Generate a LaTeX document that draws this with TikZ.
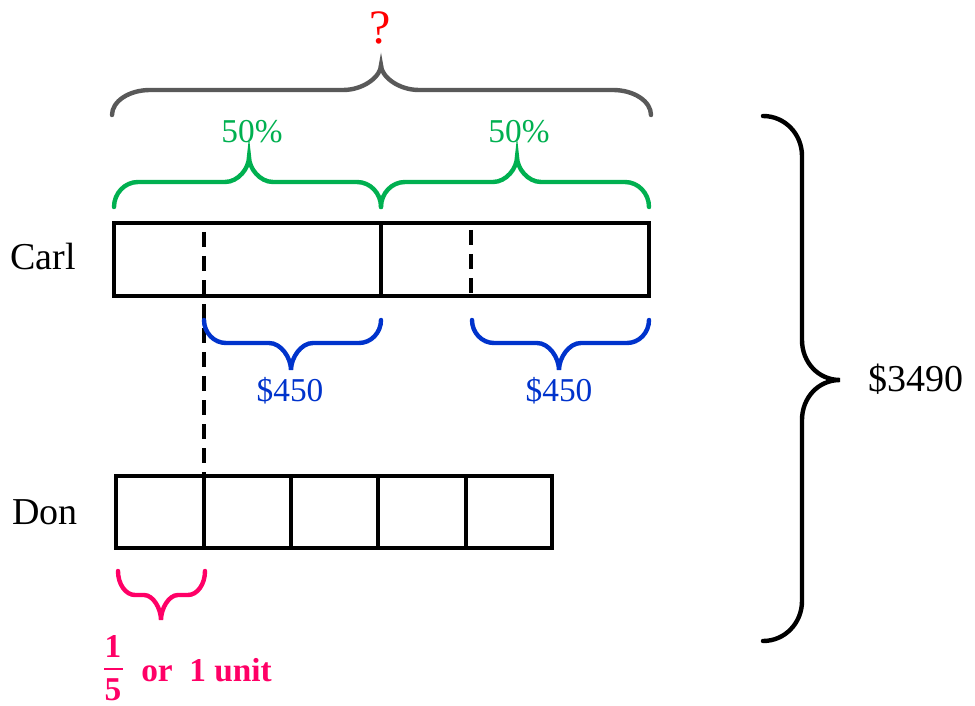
\documentclass[tikz,border=0pt]{standalone}
\usepackage{fontspec}
\setmainfont{Liberation Serif}
\definecolor{bgray}{HTML}{595959}
\definecolor{bgreen}{HTML}{00B050}
\definecolor{bblue}{HTML}{0033CC}
\definecolor{bpink}{HTML}{FF0066}
\definecolor{bred}{HTML}{FF0000}
% #1 colour, #2 x1, #3 x2, #4 tip x, #5 end y, #6 middle y, #7 tip y, #8 radius
\newcommand\hbr[8]{\draw[bracestyle,#1]
  (#2,#5) .. controls (#2,{#5+0.55*(#6-#5)}) and ({#2+0.45*#8},#6) .. ({#2+#8},#6)
  -- ({#4-#8},#6) .. controls ({#4-0.45*#8},#6) and (#4,{#6+0.55*(#7-#6)}) .. (#4,#7)
  .. controls (#4,{#6+0.55*(#7-#6)}) and ({#4+0.45*#8},#6) .. ({#4+#8},#6)
  -- ({#3-#8},#6) .. controls ({#3-0.45*#8},#6) and (#3,{#5+0.55*(#6-#5)}) .. (#3,#5);}
\begin{document}
\begin{tikzpicture}[x=0.75pt,y=-0.75pt,
  bracestyle/.style={line width=3.3pt,line cap=round},
  barbox/.style={line width=3.3pt},
  dashline/.style={line width=2.6pt,dash pattern=on 11pt off 7pt},
  lbl/.style={font=\fontsize{28.5}{32}\selectfont,anchor=base,inner sep=0pt},
  clbl/.style={font=\fontsize{25}{29}\selectfont,anchor=base,inner sep=0pt},
  plbl/.style={font=\fontsize{25}{29}\selectfont\bfseries,text=bpink,anchor=base,inner sep=0pt}]
\useasboundingbox (0,0) rectangle (975,706);
% dashed guides
\draw[dashline] (204,232) -- (204,476);
\draw[dashline] (471,230) -- (471,296);
% Carl bar
\draw[barbox] (114,223) rectangle (649,296);
\draw[barbox] (381,223) -- (381,296);
% Don bar
\draw[barbox] (116,476) rectangle (552,548);
\foreach \xx in {204,291,378,466} \draw[barbox] (\xx,476) -- (\xx,548);
% braces
\hbr{bgray}{112}{651}{381}{115}{90}{65}{38}
\hbr{bgreen}{114}{381}{249}{207}{182}{157}{24}
\hbr{bgreen}{381}{649}{517}{207}{182}{157}{24}
\hbr{bblue}{204}{381}{291}{320}{343}{370}{22}
\hbr{bblue}{472}{649}{559}{320}{343}{370}{22}
\hbr{bpink}{118}{205}{161}{571}{595}{620}{17}
\draw[bracestyle,black] (763,116) .. controls (785,116) and (802,134) .. (802,156)
  -- (802,340) .. controls (802,362) and (818,380) .. (840,380)
  .. controls (818,380) and (802,398) .. (802,420)
  -- (802,601) .. controls (802,623) and (785,641) .. (763,641);
% labels
\node[font=\fontsize{36}{40}\selectfont,text=bred,anchor=base,inner sep=0pt] (q) at (380,44) {?};
\node[clbl,text=bgreen] (p1) at (252,143) {50\%};
\node[clbl,text=bgreen] (p2) at (519,143) {50\%};
\node[clbl,text=bblue] (d1) at (290,401) {\$450};
\node[clbl,text=bblue] (d2) at (559,401) {\$450};
\node[lbl,anchor=base west] (tot) at (868,391) {\$3490};
\node[lbl] (carl) at (43,269) {Carl};
\node[lbl] (don) at (45,524) {Don};
\node[plbl] (num) at (113,657) {1};
\node[plbl] (den) at (113,700) {5};
\draw[bpink,line width=2.2pt] (104,669) -- (123,669);
\node[plbl,anchor=base west] (unit) at (141,681) {or\ \ 1 unit};
\end{tikzpicture}
\end{document}
